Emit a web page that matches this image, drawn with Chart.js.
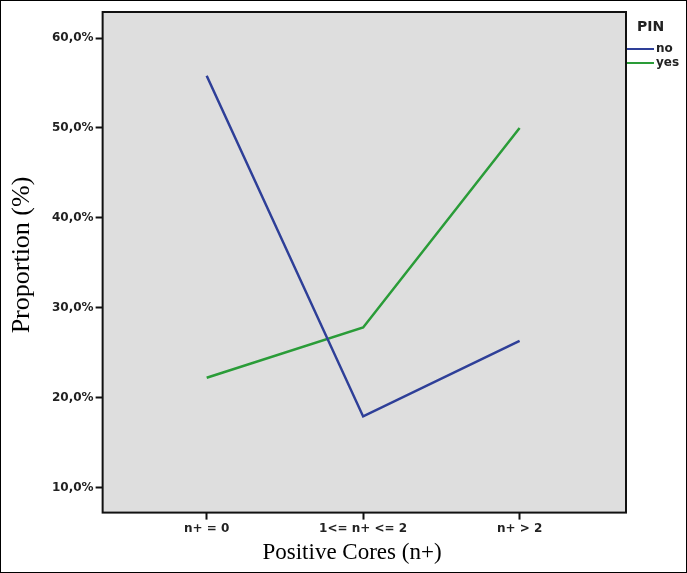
<!DOCTYPE html>
<html>
<head>
<meta charset="utf-8">
<script src="https://cdn.jsdelivr.net/npm/chart.js@4"></script>
<style>
  html, body { margin: 0; padding: 0; background: #fff; }
  #wrap { position: relative; width: 685px; height: 571px; border: 1px solid #000; }
</style>
</head>
<body>
<div id="wrap"><canvas id="myChart" width="685" height="571"></canvas></div>
<script>
const categories = ["n+ = 0", "1<= n+ <= 2", "n+ > 2"];
const pinNo = [55.8, 17.9, 26.3];
const pinYes = [22.2, 27.8, 50.0];
const yTicks = [10, 20, 30, 40, 50, 60];
const seriesNames = ["no", "yes"];
const seriesColors = ["#2e3f98", "#2a9c38"];
const xTitle = "Positive Cores (n+)";
const yTitle = "Proportion (%)";

// plot frame, axis titles and the PIN legend
const framePlugin = {
  id: "frame",
  beforeDraw(chart) {
    const a = chart.chartArea, c = chart.ctx;
    c.save();
    c.fillStyle = "#dedede";
    c.fillRect(a.left, a.top, a.right - a.left, a.bottom - a.top);
    c.restore();
  },
  afterDraw(chart) {
    const a = chart.chartArea, c = chart.ctx;
    c.save();
    c.strokeStyle = "#111";
    c.lineWidth = 2;
    c.strokeRect(a.left, a.top, a.right - a.left, a.bottom - a.top);

    c.fillStyle = "#000";
    c.textAlign = "center";
    c.textBaseline = "middle";
    c.font = "23px 'Liberation Serif', serif";
    c.fillText(xTitle, 351, 552);
    c.save();
    c.translate(21, 254);
    c.rotate(-Math.PI / 2);
    c.font = "26px 'Liberation Serif', serif";
    c.fillText(yTitle, 0, 0);
    c.restore();

    c.textAlign = "left";
    c.fillStyle = "#222";
    c.font = "bold 14px 'DejaVu Sans', sans-serif";
    c.fillText("PIN", 636, 26);
    c.font = "bold 12px 'DejaVu Sans', sans-serif";
    for (let i = 0; i < seriesNames.length; i++) {
      const y = 48 + i * 14;
      c.strokeStyle = seriesColors[i];
      c.lineWidth = 2;
      c.beginPath();
      c.moveTo(626, y);
      c.lineTo(653, y);
      c.stroke();
      c.fillText(seriesNames[i], 655, y);
    }
    c.restore();
  }
};

var ctx = document.getElementById("myChart");
var lineChart = new Chart(ctx, {
  type: "line",
  data: {
    datasets: [
      {
        label: seriesNames[0],
        data: pinNo.map((v, i) => ({ x: i, y: v })),
        borderColor: seriesColors[0],
        borderWidth: 2.5,
        pointRadius: 0,
      },
      {
        label: seriesNames[1],
        data: pinYes.map((v, i) => ({ x: i, y: v })),
        borderColor: seriesColors[1],
        borderWidth: 2.5,
        pointRadius: 0,
      },
    ],
  },
  options: {
    responsive: false,
    animation: false,
    layout: {
      padding: { left: 49, right: 60, top: 11, bottom: 34 },
    },
    plugins: {
      legend: { display: false },
      tooltip: { enabled: false },
    },
    scales: {
      x: {
        type: "linear",
        min: -0.665,
        max: 2.68,
        afterBuildTicks: (axis) => {
          axis.ticks = categories.map((c, i) => ({ value: i }));
        },
        ticks: {
          callback: (v) => categories[v],
          color: "#222",
          font: { family: "'DejaVu Sans', sans-serif", size: 12, weight: "bold" },
          padding: 2,
          maxRotation: 0,
        },
        grid: { drawOnChartArea: false, drawTicks: true, tickLength: 7, tickColor: "#111", tickWidth: 2 },
        border: { display: false },
      },
      y: {
        min: 7.2,
        max: 62.9,
        afterBuildTicks: (axis) => {
          axis.ticks = yTicks.map((v) => ({ value: v }));
        },
        ticks: {
          callback: (v) => v.toFixed(1).replace(".", ",") + "%",
          color: "#222",
          font: { family: "'DejaVu Sans', sans-serif", size: 12, weight: "bold" },
          padding: 2,
        },
        grid: { drawOnChartArea: false, drawTicks: true, tickLength: 7, tickColor: "#111", tickWidth: 2 },
        border: { display: false },
      },
    },
  },
  plugins: [framePlugin],
});
</script>
</body>
</html>
